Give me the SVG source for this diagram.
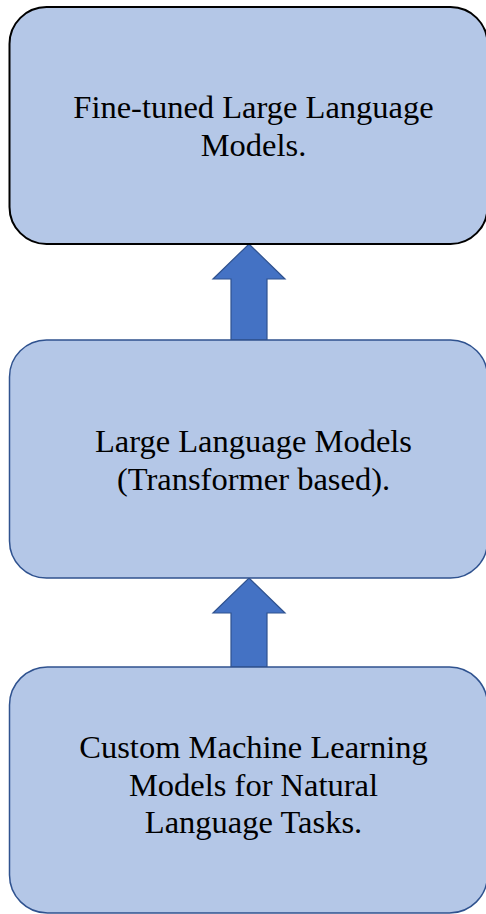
<svg xmlns="http://www.w3.org/2000/svg" width="486" height="914" viewBox="0 0 486 914">
<style>
.box{fill:#b4c7e7;stroke:#2f528f;stroke-width:1.5}
.top{stroke:#000000;stroke-width:2}
.arrow{fill:#4472c4;stroke:#2f528f;stroke-width:1.2}
.t{font-family:"Liberation Serif","Times New Roman",serif;font-size:32.5px;fill:#000;text-anchor:middle}
</style>
<rect width="486" height="914" fill="#ffffff"/>
<g id="connectors">
<polygon class="arrow" points="249,244 285,279 267,279 267,340 231,340 231,279 213,279"/>
<polygon class="arrow" points="249,578 285,613 267,613 267,667 231,667 231,613 213,613"/>
</g>
<g id="node-finetuned">
<rect class="box top" x="9.5" y="7" width="478" height="237" rx="37" ry="37"/>
<text class="t" x="253.5" y="117.5">Fine-tuned Large Language</text>
<text class="t" x="253.5" y="155.5">Models.</text>
</g>
<g id="node-llm">
<rect class="box" x="9.5" y="340" width="478" height="238" rx="37" ry="37"/>
<text class="t" x="253.5" y="452">Large Language Models</text>
<text class="t" x="253.5" y="489.5">(Transformer based).</text>
</g>
<g id="node-custom">
<rect class="box" x="9.5" y="667" width="478" height="246" rx="38" ry="38"/>
<text class="t" x="253.5" y="758">Custom Machine Learning</text>
<text class="t" x="253.5" y="795.5">Models for Natural</text>
<text class="t" x="253.5" y="833">Language Tasks.</text>
</g>
</svg>
